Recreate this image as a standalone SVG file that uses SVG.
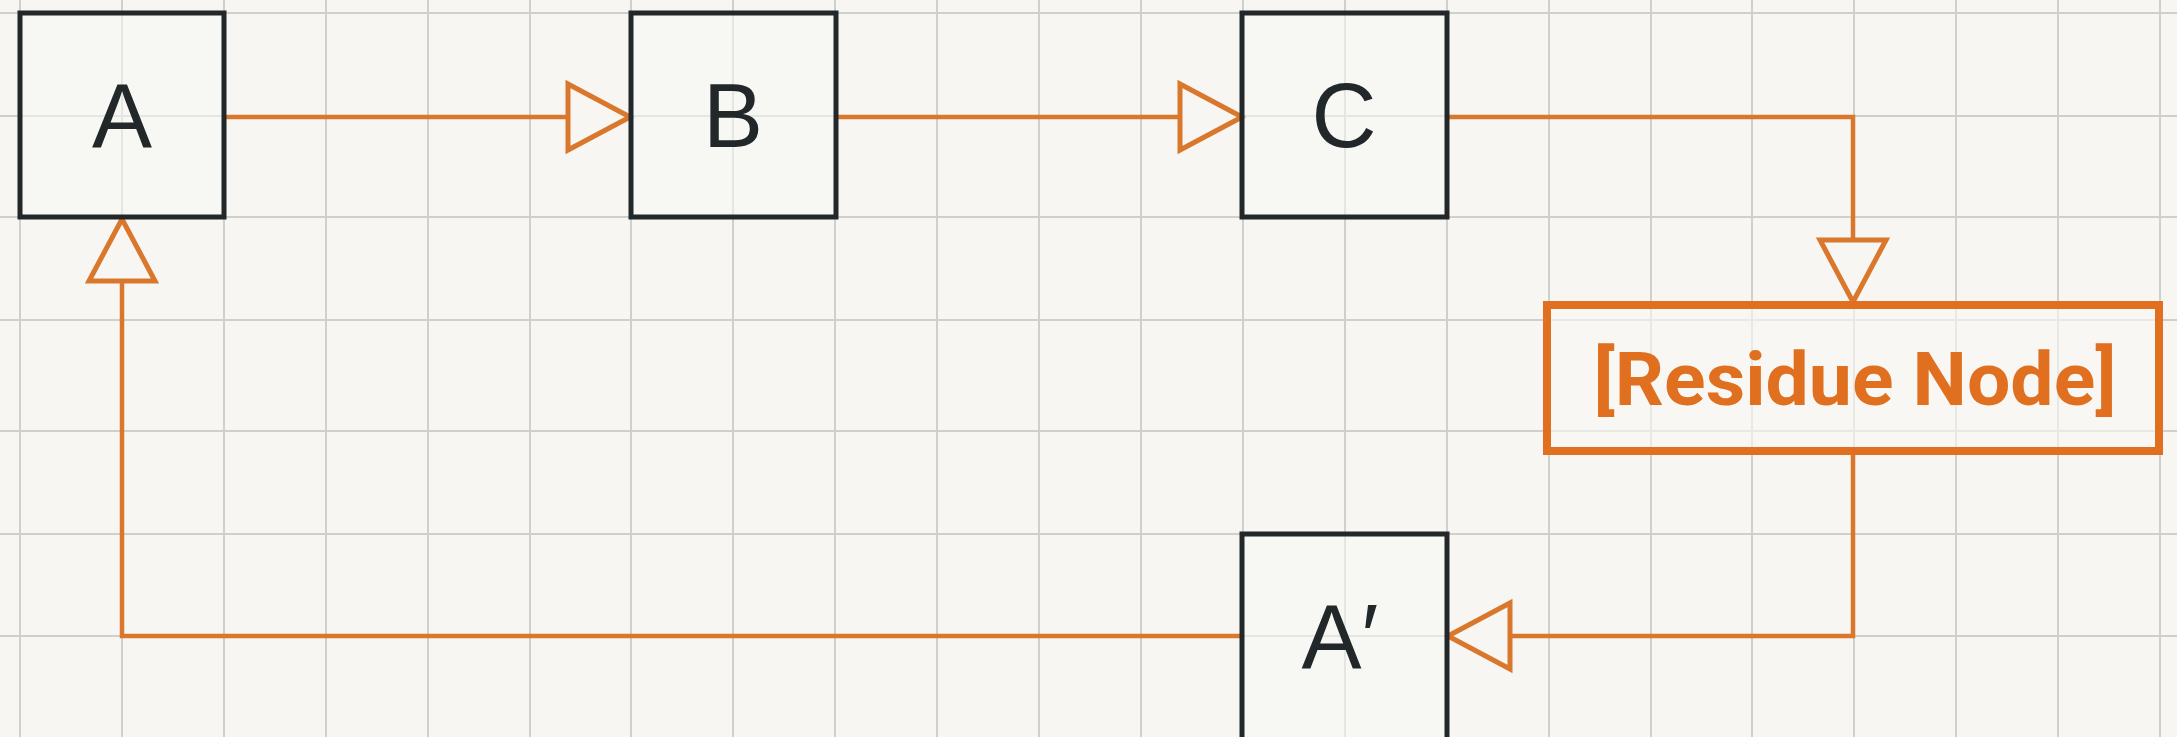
<svg xmlns="http://www.w3.org/2000/svg" width="2177" height="737" viewBox="0 0 2177 737">
<style>
.grid line{stroke:#cfcfcb;stroke-width:2}
.box{fill:#f8f8f5;fill-opacity:0.55;stroke:#22272a;stroke-width:5}
.lbl{font-family:"Liberation Sans Narrow","Liberation Sans",Arial,sans-serif;font-size:90px;fill:#22272a;text-anchor:middle}
.conn{fill:none;stroke:#d9782c;stroke-width:4.5;stroke-linejoin:miter}
.res{fill:#f8f8f5;fill-opacity:0.6;stroke:#e0701f;stroke-width:8}
.restxt{font-family:Roboto,"Liberation Sans",Arial,sans-serif;font-weight:bold;font-size:75px;fill:#e0701f;text-anchor:middle}
</style>
<defs>
<marker id="tri" viewBox="-4 -38 70 76" refX="62" refY="0" markerWidth="70" markerHeight="76" markerUnits="userSpaceOnUse" orient="auto">
<path d="M0,-33 L62,0 L0,33 Z" fill="#f7f6f2" stroke="#d9782c" stroke-width="5" stroke-linejoin="miter"/>
</marker>
</defs>
<rect width="2177" height="737" fill="#f7f6f2"/>
<g class="grid">
<line x1="20" y1="0" x2="20" y2="737"/>
<line x1="122" y1="0" x2="122" y2="737"/>
<line x1="224" y1="0" x2="224" y2="737"/>
<line x1="326" y1="0" x2="326" y2="737"/>
<line x1="428" y1="0" x2="428" y2="737"/>
<line x1="530" y1="0" x2="530" y2="737"/>
<line x1="631" y1="0" x2="631" y2="737"/>
<line x1="733" y1="0" x2="733" y2="737"/>
<line x1="835" y1="0" x2="835" y2="737"/>
<line x1="937" y1="0" x2="937" y2="737"/>
<line x1="1039" y1="0" x2="1039" y2="737"/>
<line x1="1141" y1="0" x2="1141" y2="737"/>
<line x1="1243" y1="0" x2="1243" y2="737"/>
<line x1="1345" y1="0" x2="1345" y2="737"/>
<line x1="1447" y1="0" x2="1447" y2="737"/>
<line x1="1549" y1="0" x2="1549" y2="737"/>
<line x1="1651" y1="0" x2="1651" y2="737"/>
<line x1="1752" y1="0" x2="1752" y2="737"/>
<line x1="1854" y1="0" x2="1854" y2="737"/>
<line x1="1956" y1="0" x2="1956" y2="737"/>
<line x1="2058" y1="0" x2="2058" y2="737"/>
<line x1="2160" y1="0" x2="2160" y2="737"/>
<line x1="0" y1="13" x2="2177" y2="13"/>
<line x1="0" y1="116" x2="2177" y2="116"/>
<line x1="0" y1="217" x2="2177" y2="217"/>
<line x1="0" y1="320" x2="2177" y2="320"/>
<line x1="0" y1="431" x2="2177" y2="431"/>
<line x1="0" y1="534" x2="2177" y2="534"/>
<line x1="0" y1="636" x2="2177" y2="636"/>
</g>
<g id="connectors">
<path class="conn" d="M225,117 H630" marker-end="url(#tri)"/>
<path class="conn" d="M836,117 H1242" marker-end="url(#tri)"/>
<path class="conn" d="M1447,117 H1853 V302" marker-end="url(#tri)"/>
<path class="conn" d="M1853,455 V636 H1448" marker-end="url(#tri)"/>
<path class="conn" d="M1242,636 H122 V219" marker-end="url(#tri)"/>
</g>
<g id="node-A">
<rect class="box" x="20" y="13" width="204" height="204"/>
<text class="lbl" x="122" y="147">A</text>
</g>
<g id="node-B">
<rect class="box" x="631" y="13" width="205" height="204"/>
<text class="lbl" x="733" y="147">B</text>
</g>
<g id="node-C">
<rect class="box" x="1242" y="13" width="205" height="204"/>
<text class="lbl" x="1344" y="147">C</text>
</g>
<g id="node-residue">
<rect class="res" x="1547" y="305" width="612" height="146"/>
<text class="restxt" x="1855" y="405" textLength="523" lengthAdjust="spacingAndGlyphs">[Residue Node]</text>
</g>
<g id="node-Aprime">
<rect class="box" x="1242" y="534" width="205" height="210"/>
<text class="lbl" x="1340" y="668">A′</text>
</g>
</svg>
